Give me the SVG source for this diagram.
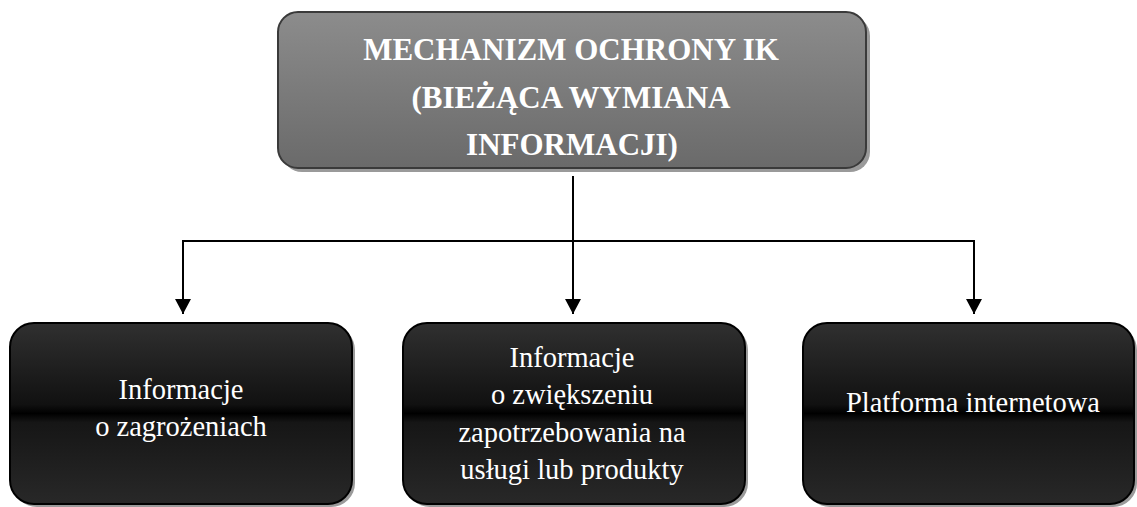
<svg xmlns="http://www.w3.org/2000/svg" width="1137" height="507" viewBox="0 0 1137 507">
<defs>
<linearGradient id="gTop" x1="0" y1="0" x2="0" y2="1">
<stop offset="0" stop-color="#8c8c8c"/>
<stop offset="1" stop-color="#6a6a6a"/>
</linearGradient>
<linearGradient id="gDark" x1="0" y1="0" x2="0" y2="1">
<stop offset="0" stop-color="#303030"/>
<stop offset="0.45" stop-color="#111111"/>
<stop offset="0.5" stop-color="#000000"/>
<stop offset="0.55" stop-color="#161616"/>
<stop offset="1" stop-color="#282828"/>
</linearGradient>
<marker id="arr" markerWidth="16" markerHeight="16" refX="15" refY="8" orient="auto" markerUnits="userSpaceOnUse">
<path d="M0,0 L15,8 L0,16 Z" fill="#000"/>
</marker>
<style>
.shadow{fill:#9a9a9a;}
.top{fill:url(#gTop);stroke:#3a3a3a;stroke-width:2;}
.dark{fill:url(#gDark);stroke:#000;stroke-width:2;}
.title{font-family:"Liberation Serif","DejaVu Serif",serif;font-weight:bold;font-size:31px;fill:#fff;text-anchor:middle;}
.lbl{font-family:"Liberation Serif","DejaVu Serif",serif;font-size:28.5px;fill:#fff;text-anchor:middle;}
.line{fill:none;stroke:#000;stroke-width:2;}
</style>
</defs>
<rect width="1137" height="507" fill="#fff"/>
<g id="connectors">
<line class="line" x1="573" y1="176" x2="573" y2="314" marker-end="url(#arr)"/>
<polyline class="line" points="183,314 183,241 974,241 974,314" marker-end="url(#arr)"/>
<line class="line" x1="183" y1="241" x2="183" y2="314" marker-end="url(#arr)"/>
</g>
<g id="node-top">
<rect class="shadow" x="282" y="16" width="588" height="156" rx="20"/>
<rect class="top" x="278" y="12" width="588" height="156" rx="20"/>
<text class="title" x="571" y="60">MECHANIZM OCHRONY IK</text>
<text class="title" x="571" y="108">(BIEŻĄCA WYMIANA</text>
<text class="title" x="572" y="155">INFORMACJI)</text>
</g>
<g id="node-zagrozenia">
<rect class="shadow" x="13" y="326" width="342" height="181" rx="24"/>
<rect class="dark" x="10" y="323" width="342" height="181" rx="24"/>
<text class="lbl" x="181" y="399">Informacje</text>
<text class="lbl" x="181" y="436">o zagrożeniach</text>
</g>
<g id="node-zapotrzebowanie">
<rect class="shadow" x="406" y="326" width="342" height="181" rx="24"/>
<rect class="dark" x="403" y="323" width="342" height="181" rx="24"/>
<text class="lbl" x="572" y="367">Informacje</text>
<text class="lbl" x="572" y="404">o zwiększeniu</text>
<text class="lbl" x="572" y="442">zapotrzebowania na</text>
<text class="lbl" x="572" y="479">usługi lub produkty</text>
</g>
<g id="node-platforma">
<rect class="shadow" x="806" y="326" width="331" height="181" rx="24"/>
<rect class="dark" x="803" y="323" width="331" height="181" rx="24"/>
<text class="lbl" x="973" y="412">Platforma internetowa</text>
</g>
</svg>
